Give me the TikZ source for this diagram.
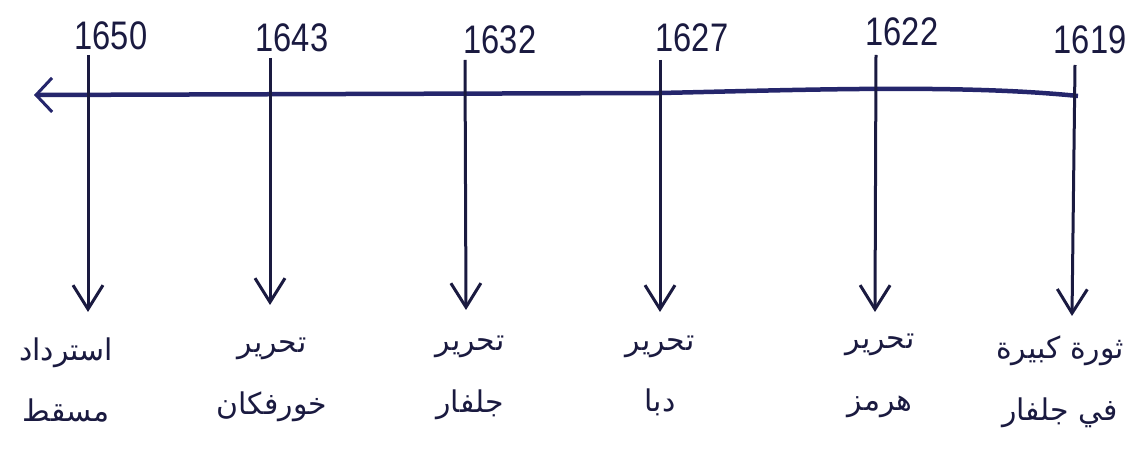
\documentclass[tikz,border=0pt]{standalone}
\usepackage{fontspec}
\setmainfont{Liberation Sans}
\newfontfamily\yearfont[FakeStretch=0.82]{Liberation Sans}
\newfontfamily\arabicfont[Script=Arabic]{DejaVu Sans}
\usetikzlibrary{arrows.meta}
\TeXXeTstate=1
\definecolor{ink}{HTML}{1A1A40}
\definecolor{navy}{HTML}{25266C}
\tikzset{
 year/.style={font=\yearfont\fontsize{40}{44}\selectfont, text=ink, inner sep=0pt},
 evt/.style={font=\arabicfont\fontsize{30}{62}\selectfont, text=ink, align=center, inner sep=0pt},
 tick/.style={draw=ink, line width=3bp, -{Straight Barb[length=24bp,width=30bp,line width=3bp]}},
 axis/.style={draw=navy, line width=4.5bp, -{Straight Barb[length=16bp,width=34bp,line width=3bp]}}
}
\begin{document}
\begin{tikzpicture}[x=1bp,y=-1bp]
\useasboundingbox (0,0) rectangle (1147,470);
% years
\node[year] (y1) at (111,36) {1650};
\node[year] (y2) at (292,38) {1643};
\node[year] (y3) at (500,40) {1632};
\node[year] (y4) at (692,38) {1627};
\node[year] (y5) at (902,32) {1622};
\node[year] (y6) at (1090,40) {1619};
% axis
\coordinate (r) at (1078,96);
\coordinate (m) at (660,93);
\coordinate (l) at (34,95);
\draw[axis] (r) .. controls (960,84) and (800,90) .. (m) -- (l);
% tick tops and bottoms
\coordinate (t1) at (88,55);   \coordinate (b1) at (88,312);
\coordinate (t2) at (270,58);  \coordinate (b2) at (270,305);
\coordinate (t3) at (465,60);  \coordinate (b3) at (466,310);
\coordinate (t4) at (660,60);  \coordinate (b4) at (660,312);
\coordinate (t5) at (876,55);  \coordinate (b5) at (875,312);
\coordinate (t6) at (1075,65); \coordinate (b6) at (1072,316);
\foreach \i in {1,...,6} \draw[tick] (t\i) -- (b\i);
% labels
\node[evt] (e1) at (66,380) {\beginR استرداد\endR\\\beginR مسقط\endR};
\node[evt] (e2) at (272,380) {\beginR تحرير\endR\\\beginR خورفكان\endR};
\node[evt] (e3) at (470,378) {\beginR تحرير\endR\\\beginR جلفار\endR};
\node[evt] (e4) at (660,376) {\beginR تحرير\endR\\\beginR دبا\endR};
\node[evt] (e5) at (880,376) {\beginR تحرير\endR\\\beginR هرمز\endR};
\node[evt] (e6) at (1060,382) {\beginR ثورة كبيرة\endR\\\beginR في جلفار\endR};
\end{tikzpicture}
\end{document}
